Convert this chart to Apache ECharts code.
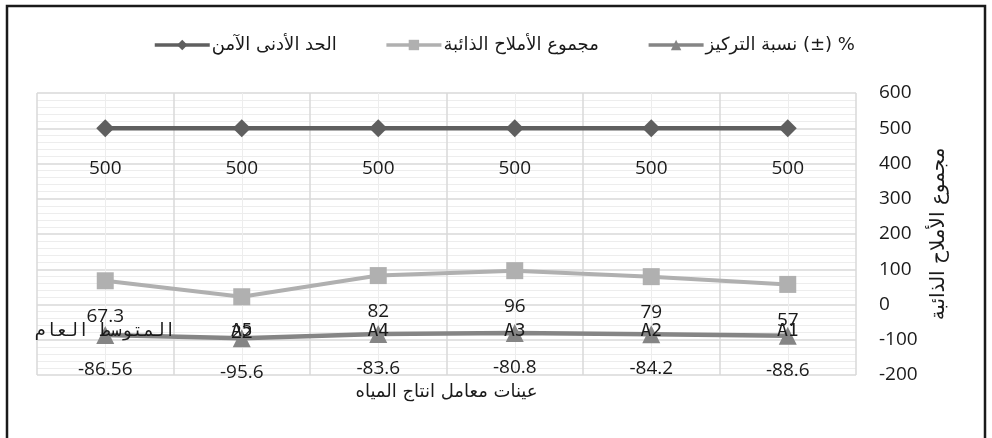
<!DOCTYPE html>
<html><head><meta charset="utf-8">
<script src="https://cdn.jsdelivr.net/npm/echarts@6/dist/echarts.min.js"></script>
<style>html,body{margin:0;padding:0;background:#fff}#c{width:992px;height:438px}</style>
</head><body><div id="c"></div>
<script>
const categories = ['A1', 'A2', 'A3', 'A4', 'A5', 'المتوسط العام'];
const minSafe = [500, 500, 500, 500, 500, 500];
const salts = [57, 79, 96, 82, 22, 67.3];
const ratio = [-88.6, -84.2, -80.8, -83.6, -95.6, -86.56];
const yTicks = { min: -200, max: 600, interval: 100 };
const names = ['الحد الأدنى الآمن', 'مجموع الأملاح الذائبة', 'نسبة التركيز (±) %'];
const xTitle = 'عينات معامل انتاج المياه';
const yTitle = 'مجموع الأملاح الذائبة';

const numFont = '"Open Sans", sans-serif';
const arFont = '"DejaVu Sans", sans-serif';
const chart = echarts.init(document.getElementById('c'), null, { renderer: 'canvas' });
function lbl(dist) {
  return { show: true, position: 'bottom', distance: dist, color: '#1a1a1a', fontSize: 19, fontFamily: numFont };
}
chart.setOption({
  animation: false,
  backgroundColor: '#fff',
  graphic: [{ type: 'rect', shape: { x: 7, y: 6, width: 978, height: 440 }, style: { fill: 'none', stroke: '#1a1a1a', lineWidth: 2.5 }, silent: true }],
  legend: {
    top: 31, left: 148, itemWidth: 55, itemHeight: 13, itemGap: 48,
    textStyle: { fontSize: 18, color: '#1a1a1a', fontFamily: arFont, padding: [0, 0, 0, -3] },
    lineStyle: { width: 3.5 },
    data: names
  },
  grid: { left: 37, right: 136, top: 93, bottom: 63 },
  xAxis: [{
    type: 'category', data: categories, inverse: true, position: 'bottom', offset: -53, z: 5,
    axisLine: { show: false }, axisTick: { show: false }, splitLine: { show: false },
    axisLabel: { margin: 0, fontSize: 18, color: '#1a1a1a', fontFamily: '"DejaVu Sans Mono", monospace', interval: 0 }
  }, {
    type: 'value', min: 0, max: 6, interval: 1, position: 'bottom',
    axisLine: { show: false }, axisTick: { show: false }, axisLabel: { show: false },
    splitLine: { show: true, lineStyle: { color: '#d9d9d9', width: 1.5 } },
    minorTick: { show: false, splitNumber: 2 },
    minorSplitLine: { show: true, lineStyle: { color: '#ededed', width: 1 } },
    name: xTitle, nameLocation: 'middle', nameGap: 8,
    nameTextStyle: { fontSize: 18, color: '#1a1a1a', fontFamily: arFont }
  }],
  yAxis: {
    type: 'value', position: 'right', min: yTicks.min, max: yTicks.max, interval: yTicks.interval,
    axisLine: { show: false }, axisTick: { show: false },
    axisLabel: { margin: 23, align: 'left', fontSize: 19, color: '#1a1a1a', fontFamily: numFont },
    splitLine: { lineStyle: { color: '#d9d9d9', width: 1.5 } },
    minorTick: { show: false, splitNumber: 5 },
    minorSplitLine: { show: true, lineStyle: { color: '#ededed', width: 1 } },
    name: yTitle, nameLocation: 'middle', nameGap: 73, nameRotate: 90,
    nameTextStyle: { fontSize: 20, color: '#1a1a1a', fontFamily: arFont }
  },
  series: [{
    name: names[0], type: 'line', data: minSafe, xAxisIndex: 0,
    symbol: 'diamond', symbolSize: 18,
    itemStyle: { color: '#5f5f5f' }, lineStyle: { color: '#5f5f5f', width: 4.5 },
    label: lbl(22)
  }, {
    name: names[1], type: 'line', data: salts, xAxisIndex: 0,
    symbol: 'rect', symbolSize: 17,
    itemStyle: { color: '#b0b0b0' }, lineStyle: { color: '#b0b0b0', width: 4 },
    label: lbl(18)
  }, {
    name: names[2], type: 'line', data: ratio, xAxisIndex: 0,
    symbol: 'triangle', symbolSize: 18,
    itemStyle: { color: '#858585' }, lineStyle: { color: '#858585', width: 4.5 },
    label: lbl(16)
  }]
});
</script></body></html>
